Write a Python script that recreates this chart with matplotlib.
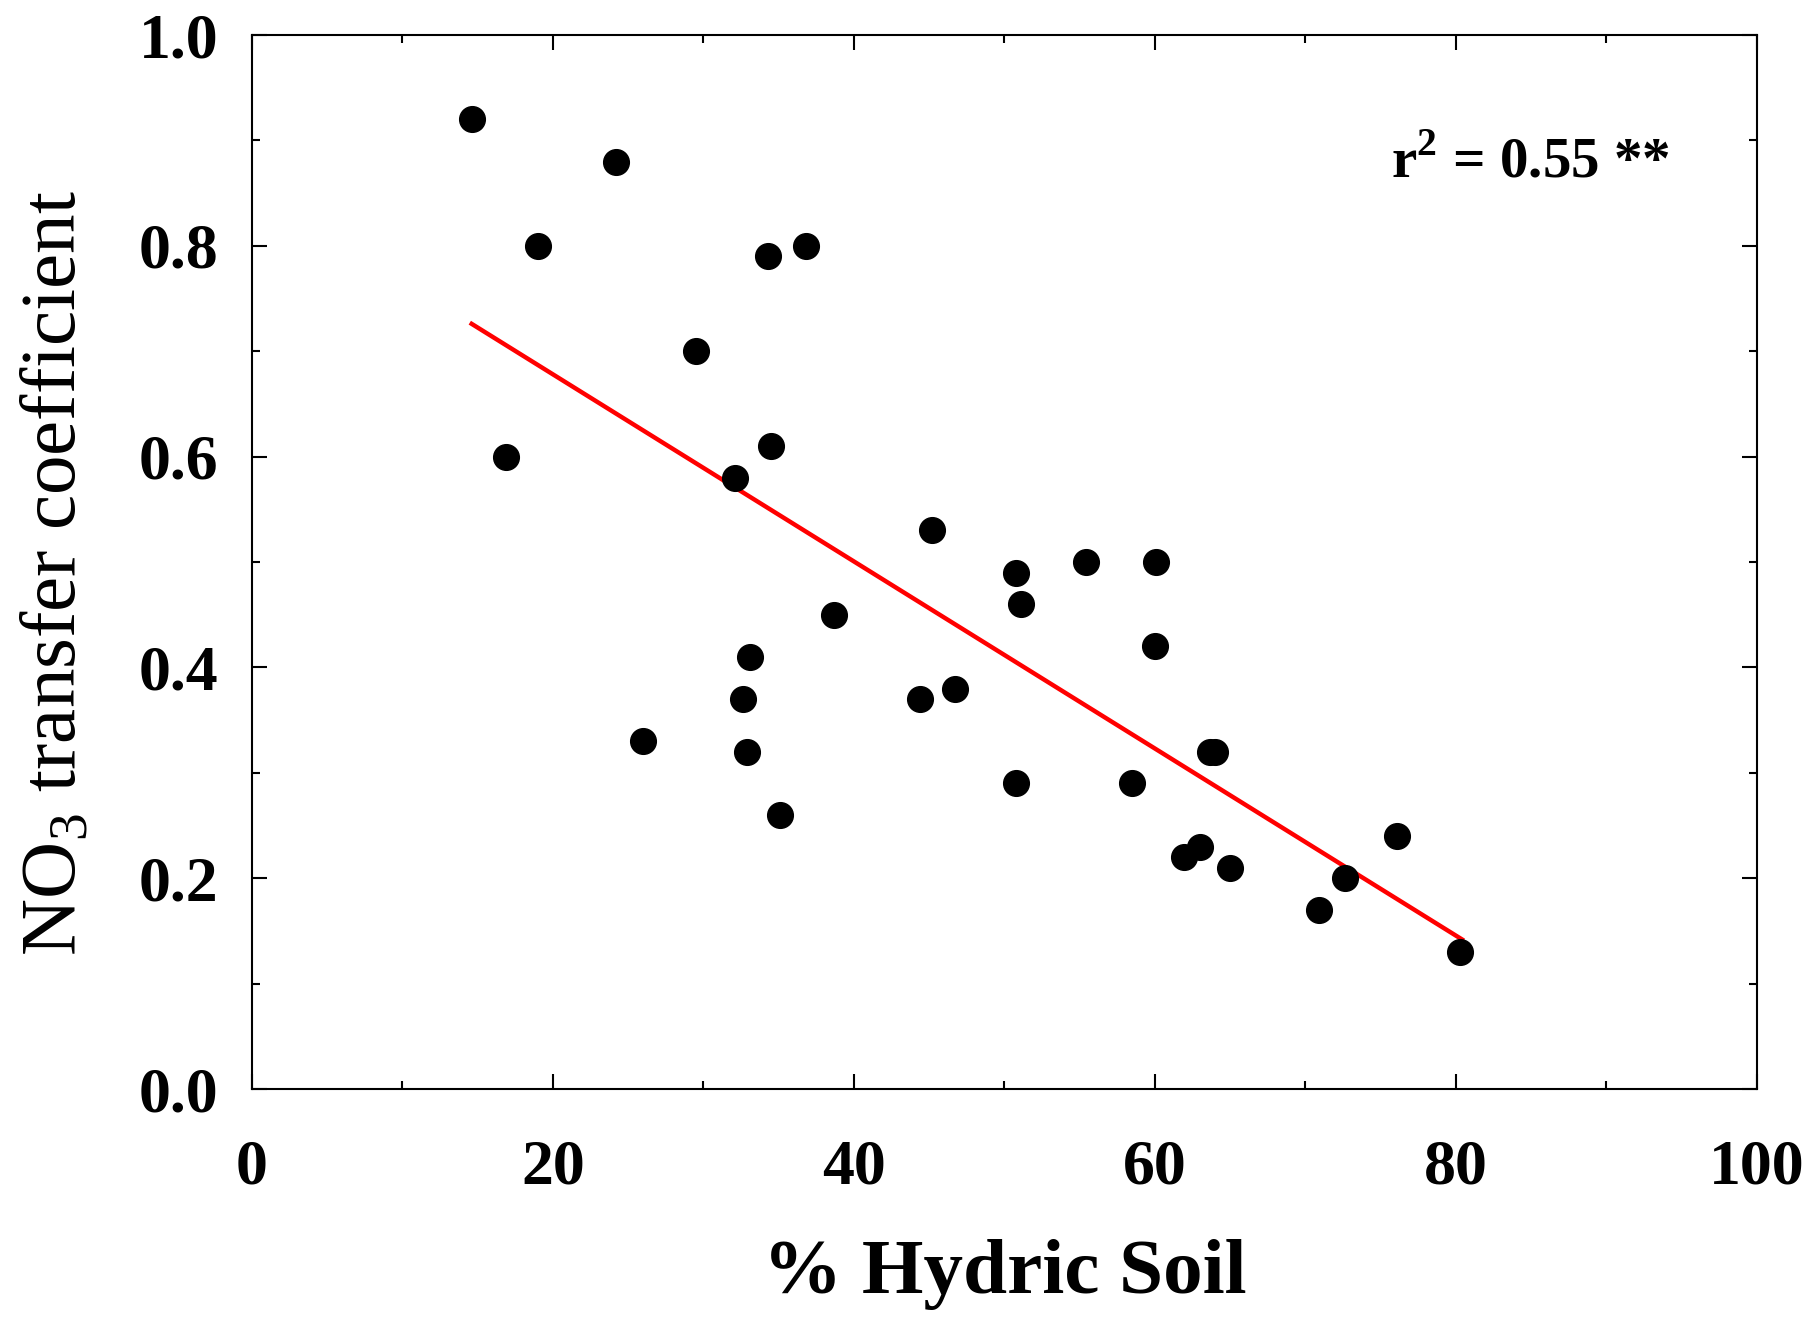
import matplotlib
matplotlib.use("Agg")
import matplotlib.pyplot as plt
from matplotlib.ticker import MultipleLocator

plt.rcParams["font.family"] = ["Liberation Serif", "DejaVu Serif"]
plt.rcParams["mathtext.fontset"] = "custom"
plt.rcParams["mathtext.rm"] = "Liberation Serif"
plt.rcParams["mathtext.bf"] = "Liberation Serif:bold"

# % hydric soil vs NO3 transfer coefficient
hydric = [14.6, 16.9, 19.0, 24.2, 26.0, 29.5, 32.1, 32.6, 32.9, 33.1,
          34.3, 34.5, 35.1, 36.8, 38.65, 44.4, 45.2, 46.7, 50.8, 50.8,
          51.1, 55.4, 58.5, 60.0, 60.1, 61.9, 63.0, 63.65, 64.0, 65.0,
          70.9, 72.6, 76.1, 80.3]
coef = [0.92, 0.60, 0.80, 0.88, 0.33, 0.70, 0.58, 0.37, 0.32, 0.41,
        0.79, 0.61, 0.26, 0.80, 0.45, 0.37, 0.53, 0.38, 0.29, 0.49,
        0.46, 0.50, 0.29, 0.42, 0.50, 0.22, 0.23, 0.32, 0.32, 0.21,
        0.17, 0.20, 0.24, 0.13]

# regression line ends
fit_x = [14.6, 80.4]
fit_y = [0.726, 0.142]

fig = plt.figure(figsize=(18.1, 13.18), dpi=100)
ax = fig.add_axes([0.1392, 0.1737, 0.8315, 0.7997])

ax.plot(fit_x, fit_y, color="red", lw=3.2, zorder=2)
ax.plot(hydric, coef, "o", color="black", ms=18.5, zorder=3)

ax.set_xlim(0, 100)
ax.set_ylim(0, 1.0)
ax.xaxis.set_major_locator(MultipleLocator(20))
ax.xaxis.set_minor_locator(MultipleLocator(10))
ax.yaxis.set_major_locator(MultipleLocator(0.2))
ax.yaxis.set_minor_locator(MultipleLocator(0.1))
ax.set_yticklabels([f"{v:.1f}" for v in ax.get_yticks()])

for s in ax.spines.values():
    s.set_linewidth(1.5)
ax.tick_params(which="both", direction="in", top=True, right=True, width=1.5)
ax.tick_params(which="major", length=11)
ax.tick_params(which="minor", length=6)
ax.tick_params(axis="x", which="major", pad=36)
ax.tick_params(axis="y", which="major", pad=24)
for lab in ax.get_xticklabels() + ax.get_yticklabels():
    lab.set_fontsize(46)
    lab.set_fontweight("bold")

ax.set_xlabel("% Hydric Soil", fontsize=57, fontweight="bold", labelpad=30)
ax.set_ylabel(r"NO$_\mathregular{3}$ transfer coefficient", fontsize=57, labelpad=24)
ax.yaxis.set_label_coords(-0.106, 0.49)

ax.text(0.9425, 0.865, r"r$^\mathbf{2}$ = 0.55 **", transform=ax.transAxes,
        fontsize=41, fontweight="bold", ha="right", va="baseline")

fig.savefig("out.png", dpi=100)
